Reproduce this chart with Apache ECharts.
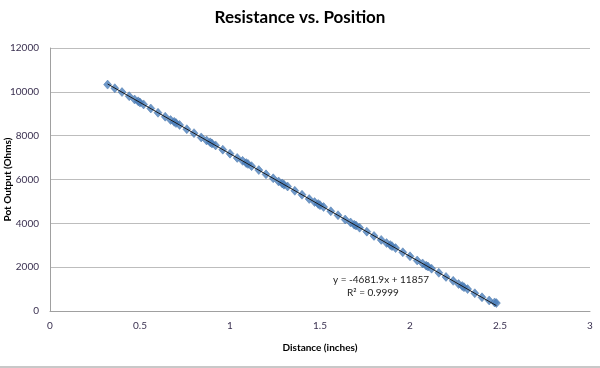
<!DOCTYPE html>
<html>
<head>
<meta charset="utf-8">
<script src="https://cdn.jsdelivr.net/npm/echarts@6/dist/echarts.min.js"></script>
<style>html,body{margin:0;padding:0;background:#fff}#c{width:600px;height:368px}</style>
</head>
<body>
<div id="c"></div>
<script>
var distance = [0.32,0.36,0.40,0.44,0.47,0.49,0.50,0.52,0.56,0.60,0.64,0.67,0.69,0.70,0.72,0.76,0.80,0.84,
0.87,0.89,0.90,0.92,0.96,1.00,1.04,1.07,1.09,1.10,1.12,1.16,1.20,1.24,1.27,1.29,1.30,1.32,1.36,1.40,1.44,
1.47,1.49,1.50,1.52,1.56,1.60,1.64,1.67,1.69,1.70,1.72,1.76,1.80,1.84,1.87,1.89,1.90,1.92,1.96,2.00,2.04,
2.07,2.09,2.10,2.12,2.16,2.20,2.24,2.27,2.29,2.30,2.32,2.36,2.40,2.44,2.47,2.48];
var potOutput = [10330,10165,9990,9800,9650,9565,9510,9425,9240,9045,8865,8715,8630,8575,8490,8295,8115,7920,
7780,7695,7640,7555,7360,7180,6985,6850,6750,6710,6610,6430,6235,6055,5910,5820,5765,5680,5485,5305,5110,
4970,4885,4830,4745,4550,4370,4175,4040,3940,3900,3800,3620,3425,3245,3100,3010,2960,2870,2680,2495,2305,
2170,2070,2030,1930,1745,1555,1375,1230,1140,1085,1000,810,625,480,390,360];
var slope = -4681.9, intercept = 11857;
var xTicks = [0,0.5,1,1.5,2,2.5,3];
var yTicks = [0,2000,4000,6000,8000,10000,12000];

var pts = distance.map(function(x,i){return [x,potOutput[i]];});
var xmin = distance[0], xmax = distance[distance.length-1];
var trend = [[xmin, slope*xmin+intercept],[xmax, slope*xmax+intercept]];

var font = 'Lato, "Open Sans", sans-serif';
var chart = echarts.init(document.getElementById('c'));
chart.setOption({
  animation:false,
  backgroundColor:'#fff',
  title:{text:'Resistance vs. Position',left:'center',top:4,
    textStyle:{fontFamily:font,fontWeight:'bold',fontSize:17,color:'#000'}},
  grid:{left:50,right:10,top:48,bottom:57,containLabel:false,outerBoundsMode:'none'},
  xAxis:{type:'value',min:0,max:3,interval:0.5,
    name:'Distance (inches)',nameLocation:'middle',nameGap:32,nameMoveOverlap:false,
    nameTextStyle:{fontFamily:font,fontWeight:'bold',fontSize:10,color:'#000'},
    axisLine:{show:true,lineStyle:{color:'#a0a0a0'}},axisTick:{show:false},
    splitLine:{show:false},
    axisLabel:{fontFamily:font,fontSize:10,color:'#3a3050',margin:10,
      formatter:function(v){return xTicks.indexOf(v)>=0?String(v):'';}}},
  yAxis:{type:'value',min:0,max:12000,interval:2000,
    name:'Pot Output (Ohms)',nameLocation:'middle',nameGap:37,nameRotate:90,nameMoveOverlap:false,
    nameTextStyle:{fontFamily:font,fontWeight:'bold',fontSize:10,color:'#000'},
    axisLine:{show:true,lineStyle:{color:'#a0a0a0'}},axisTick:{show:false},
    splitLine:{show:true,lineStyle:{color:'#bdbdbd'}},
    axisLabel:{fontFamily:font,fontSize:10,color:'#3a3050',margin:11,
      formatter:function(v){return yTicks.indexOf(v)>=0?String(v):'';}}},
  series:[
    {type:'scatter',data:pts,symbol:'diamond',symbolSize:[8,9],
      itemStyle:{color:'#4a7ebb',borderColor:'#3a68a0',borderWidth:0.5},z:2},
    {type:'line',data:trend,symbol:'none',lineStyle:{color:'#1a1a1a',width:1},z:3,silent:true}
  ],
  graphic:[
    {type:'text',left:333,top:275,style:{text:'y = -4681.9x + 11857',fontFamily:font,fontSize:10,fill:'#222'}},
    {type:'text',left:347,top:288,style:{text:'R² = 0.9999',fontFamily:font,fontSize:10,fill:'#222'}},
    {type:'rect',shape:{x:0,y:366,width:600,height:2},style:{fill:'#c8c8c8'}}
  ]
});
</script>
</body>
</html>
